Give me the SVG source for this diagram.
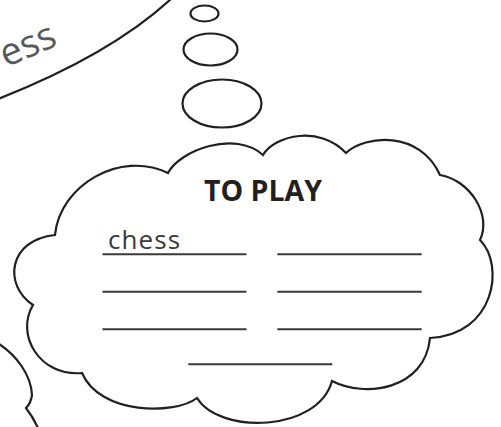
<svg xmlns="http://www.w3.org/2000/svg" width="501" height="427" viewBox="0 0 501 427">
<style>
.ln{fill:none;stroke:#231f20;stroke-width:2.2}
.wr{stroke:#3a3a3a;stroke-width:2}
</style>
<rect width="501" height="427" fill="#ffffff"/>
<g id="top-bubble">
<path class="ln" d="M-2,99 Q110,55 171,-1"/>
<text transform="translate(59,45) rotate(-23)" text-anchor="end" font-family="'Open Sans', 'Noto Sans', sans-serif" font-size="38" fill="#58595b">ess</text>
</g>
<g id="thought-dots">
<ellipse class="ln" cx="204.5" cy="13.5" rx="14" ry="8"/>
<ellipse class="ln" cx="210.5" cy="49.5" rx="27" ry="16"/>
<ellipse class="ln" cx="222" cy="103.5" rx="39.5" ry="24"/>
</g>
<g id="bottom-left-cloud">
<path class="ln" d="M-1,344 C17,356 31,375 32,395 Q31,403 26,408 Q33,417 38,428"/>
</g>
<g id="cloud">
<path class="ln" fill="#ffffff" d="M55,235 C60,185 120,150 168,173 C180,150 235,130 263,155 C275,135 320,125 346,153 C365,135 420,130 440,175 C470,180 492,215 480,240 C505,265 495,335 430,338 C425,390 365,398 332,381 C318,432 220,435 197,398 C175,415 100,415 82,373 C40,377 15,335 33,305 C3,285 8,240 55,235 Z"/>
<text x="263" y="201" text-anchor="middle" font-family="'Open Sans', 'Noto Sans', sans-serif" font-weight="bold" font-size="28.5" fill="#231f20">TO PLAY</text>
<text x="108" y="249" font-family="'Open Sans', 'Noto Sans', sans-serif" font-size="26" letter-spacing="1.1" fill="#3a3a3a">chess</text>
<g class="wr">
<line x1="102.5" y1="254.3" x2="246.5" y2="254.3"/>
<line x1="277.3" y1="254.3" x2="421.7" y2="254.3"/>
<line x1="102.5" y1="291.7" x2="246.5" y2="291.7"/>
<line x1="277.3" y1="291.7" x2="421.7" y2="291.7"/>
<line x1="102.5" y1="329.3" x2="246.5" y2="329.3"/>
<line x1="277.3" y1="329.3" x2="421.7" y2="329.3"/>
<line x1="188.3" y1="364.3" x2="332.3" y2="364.3"/>
</g>
</g>
</svg>
